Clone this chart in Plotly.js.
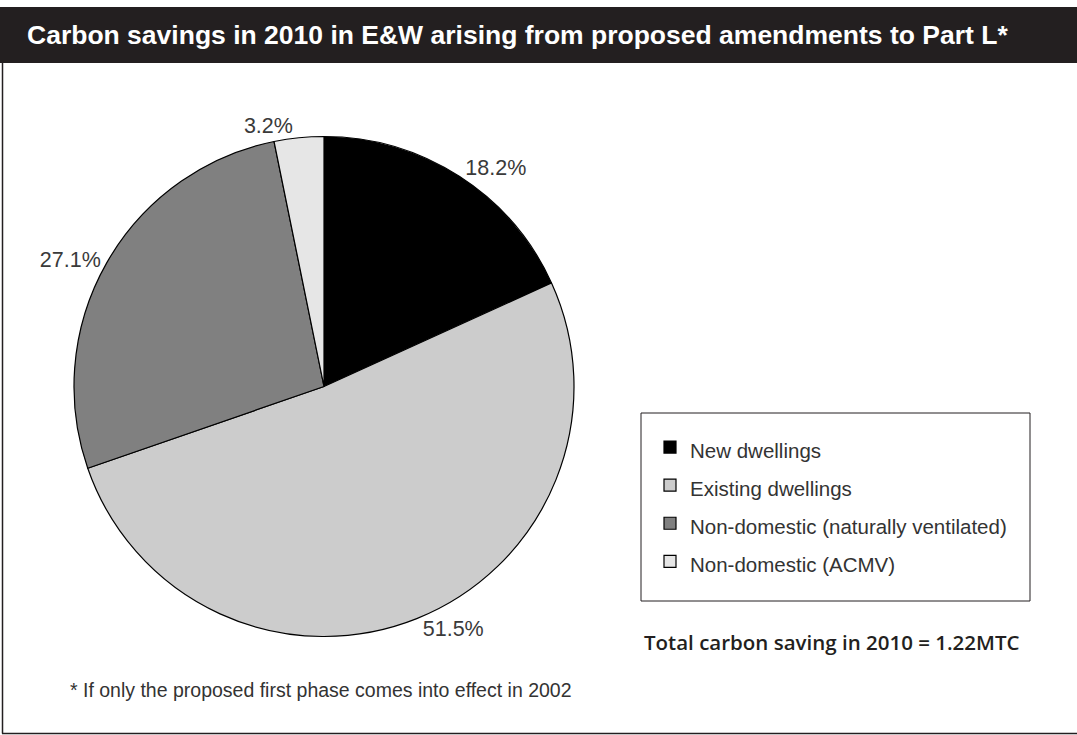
<!DOCTYPE html>
<html>
<head>
<meta charset="utf-8">
<script src="https://cdn.plot.ly/plotly-3.0.1.min.js"></script>
<style>
  html, body { margin: 0; padding: 0; background: #ffffff; }
  #chart { width: 1077px; height: 735px; }
</style>
</head>
<body>
<div id="chart"></div>
<script>
// ---- data ----
const categories = ['New dwellings', 'Existing dwellings', 'Non-domestic (naturally ventilated)', 'Non-domestic (ACMV)'];
const shares = [18.2, 51.5, 27.1, 3.2];
const chartTitle = 'Carbon savings in 2010 in E&W arising from proposed amendments to Part L*';
const totalNote = 'Total carbon saving in 2010 = 1.22MTC';
const footNote = '* If only the proposed first phase comes into effect in 2002';

// ---- helpers (pixel -> paper) ----
const W = 1077, H = 735;
const px = v => v / W;
const py = v => 1 - v / H;

const legendLabels = categories.map(c => '<span style="font-size:20.5px">' + c + '</span>');

const trace = {
  type: 'pie',
  labels: legendLabels,
  values: shares,
  sort: false,
  direction: 'clockwise',
  rotation: 0,
  marker: {
    colors: ['#000000', '#cccccc', '#808080', '#e6e6e6'],
    line: { color: '#000000', width: 1.2 }
  },
  texttemplate: '%{value:.1f}%',
  textposition: 'outside',
  outsidetextfont: { family: 'Liberation Sans, Arial, sans-serif', size: 21.5, color: '#3a3a3a' },
  hoverinfo: 'label+percent',
  domain: { x: [px(74), px(574)], y: [py(636.5), py(136.5)] },
  automargin: false,
  showlegend: true
};

const layout = {
  width: W,
  height: H,
  margin: { l: 0, r: 0, t: 0, b: 0, pad: 0 },
  paper_bgcolor: '#ffffff',
  showlegend: true,
  legend: {
    x: px(650), xanchor: 'left',
    y: py(423), yanchor: 'top',
    bgcolor: 'rgba(0,0,0,0)',
    borderwidth: 0,
    font: { family: 'Liberation Sans, Arial, sans-serif', size: 27, color: '#333333' },
    traceorder: 'normal'
  },
  shapes: [
    // title bar
    { type: 'rect', xref: 'paper', yref: 'paper', x0: 0, x1: 1, y0: py(63), y1: py(7),
      fillcolor: '#231f20', line: { width: 0 } },
    // left frame line
    { type: 'line', xref: 'paper', yref: 'paper', x0: px(2.5), x1: px(2.5), y0: py(733.5), y1: py(60),
      line: { color: '#231f20', width: 1.5 } },
    // bottom frame line
    { type: 'line', xref: 'paper', yref: 'paper', x0: px(2), x1: 1, y0: py(733.5), y1: py(733.5),
      line: { color: '#231f20', width: 1.5 } },
    // legend box
    { type: 'rect', xref: 'paper', yref: 'paper', x0: px(641), x1: px(1030), y0: py(601), y1: py(413),
      fillcolor: 'rgba(0,0,0,0)', line: { color: '#231f20', width: 1 } }
  ],
  annotations: [
    { text: '<b>' + chartTitle.replace('&', '&amp;') + '</b>', xref: 'paper', yref: 'paper',
      x: px(25), y: py(35), xanchor: 'left', yanchor: 'middle', showarrow: false,
      font: { family: 'Liberation Sans, Arial, sans-serif', size: 26.5, color: '#ffffff' } },
    { text: totalNote, xref: 'paper', yref: 'paper',
      x: px(642), y: py(642), xanchor: 'left', yanchor: 'middle', showarrow: false,
      font: { family: 'Open Sans, sans-serif', size: 20.5, color: '#231f20', weight: 600 } },
    { text: footNote, xref: 'paper', yref: 'paper',
      x: px(68), y: py(690), xanchor: 'left', yanchor: 'middle', showarrow: false,
      font: { family: 'Liberation Sans, Arial, sans-serif', size: 19.5, color: '#333333' } }
  ]
};

Plotly.newPlot('chart', [trace], layout, { displayModeBar: false, staticPlot: true });
</script>
</body>
</html>
